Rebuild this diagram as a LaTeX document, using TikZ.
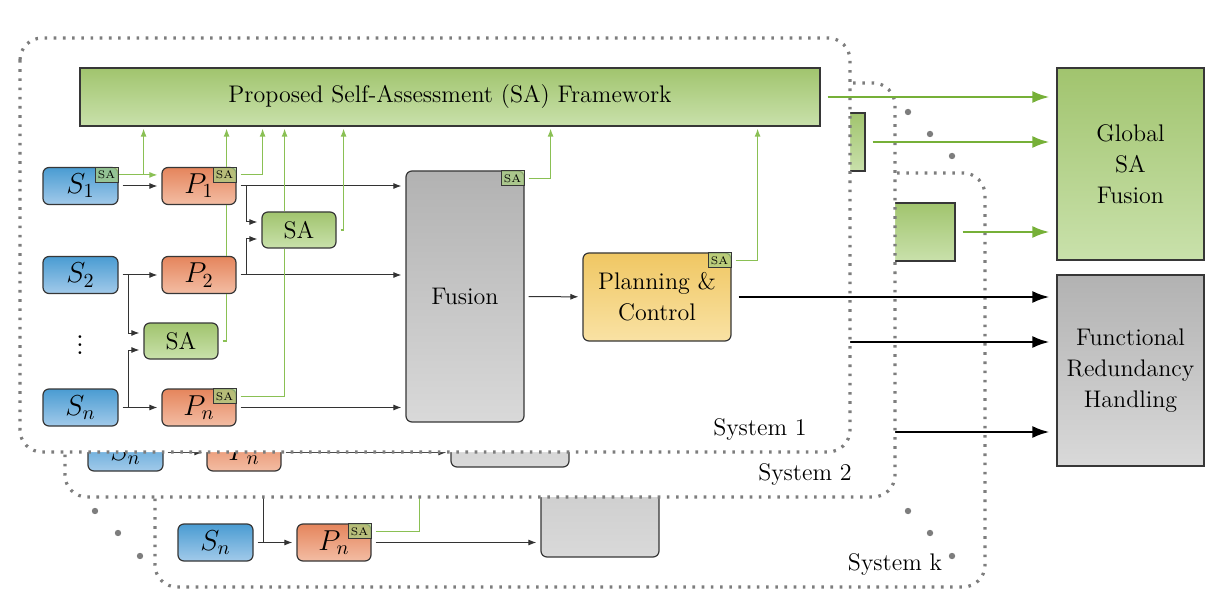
\documentclass[tikz,border=0pt]{standalone}
\usetikzlibrary{arrows.meta,calc}
\definecolor{bluetop}{RGB}{74,156,210}
\definecolor{bluebot}{RGB}{162,202,234}
\definecolor{ortop}{RGB}{229,133,92}
\definecolor{orbot}{RGB}{243,189,164}
\definecolor{grtop}{RGB}{161,196,110}
\definecolor{grbot}{RGB}{201,225,171}
\definecolor{gytop}{RGB}{178,178,178}
\definecolor{gybot}{RGB}{217,217,217}
\definecolor{yetop}{RGB}{240,199,99}
\definecolor{yebot}{RGB}{249,226,164}
\definecolor{badgefill}{RGB}{168,206,128}
\definecolor{lgreen}{RGB}{138,192,84}
\definecolor{dgreen}{RGB}{118,176,56}
\definecolor{border}{RGB}{55,55,55}
\definecolor{dotgray}{RGB}{125,125,125}
\tikzset{
  base/.style={draw=border, line width=0.6pt, inner sep=0pt, font=\fontsize{12}{15.5}\selectfont},
  sbox/.style={base, rounded corners=3pt, top color=bluetop, bottom color=bluebot, minimum width=37.5pt, minimum height=18.5pt, font=\Large},
  pbox/.style={base, rounded corners=3pt, top color=ortop, bottom color=orbot, minimum width=37pt, minimum height=18.5pt, font=\Large},
  sabox/.style={base, rounded corners=3pt, top color=grtop, bottom color=grbot, minimum width=37pt, minimum height=18pt},
  fubox/.style={base, rounded corners=3pt, top color=gytop, bottom color=gybot, minimum width=59pt, minimum height=125.5pt},
  pcbox/.style={base, rounded corners=3pt, top color=yetop, bottom color=yebot, minimum width=74pt, minimum height=44pt, align=center},
  fwbox/.style={base, top color=grtop, bottom color=grbot, minimum width=370pt, minimum height=29pt},
  bigg/.style={base, top color=grtop, bottom color=grbot, minimum width=73.5pt, minimum height=96pt, align=center},
  bigk/.style={base, top color=gytop, bottom color=gybot, minimum width=73.5pt, minimum height=95.5pt, align=center},
  badge/.style={draw=border, line width=0.5pt, fill=badgefill, fill opacity=0.75, text opacity=1, inner sep=0pt, minimum width=11.5pt, minimum height=7.5pt, font=\fontsize{5.5}{6}\selectfont, anchor=north east},
  sysbox/.style={draw=dotgray, fill=white, line width=1.6pt, dash pattern=on 1.3pt off 3.3pt, rounded corners=11pt},
  lbl/.style={font=\fontsize{12}{15}\selectfont, inner sep=0pt},
  arr/.style={-{Latex[length=4pt,width=3pt]}, line width=0.5pt, black!80, shorten >=2pt, shorten <=2pt},
  gline/.style={line width=0.6pt, lgreen, shorten <=2pt},
  garr/.style={-{Latex[length=4pt,width=3pt]}, line width=0.6pt, lgreen, shorten >=1pt},
  gbig/.style={-{Latex[length=8.5pt,width=6pt]}, line width=1.2pt, dgreen, shorten <=3.5pt, shorten >=3.5pt},
  kbig/.style={-{Latex[length=8.5pt,width=6pt]}, line width=1.2pt, black, shorten <=3.5pt, shorten >=3.5pt},
  layerdot/.style={fill=dotgray}
}
\newif\ifshowall
\newcommand\T[1]{\ifshowall#1\fi}
\newcommand\drawsystem[3]{%
\begin{scope}[shift={#2}]
\draw[sysbox] (20,38) rectangle (850,452);
\node[lbl] (#1lbl) at (760,429) {#3};
\node[fwbox] (#1FW) at (450,97) {\T{Proposed Self-Assessment (SA) Framework}};
\node[sbox] (#1S1) at (80.5,186) {\T{$S_1$}};
\node[sbox] (#1S2) at (80.5,275) {\T{$S_2$}};
\node[sbox] (#1Sn) at (80.5,407.5) {$S_n$};
\node[font=\Large, inner sep=0pt] (#1vd) at (80,339) {\T{$\vdots$}};
\node[pbox] (#1P1) at (199,186) {\T{$P_1$}};
\node[pbox] (#1P2) at (199,275) {\T{$P_2$}};
\node[pbox] (#1Pn) at (199,407.5) {$P_n$};
\node[sabox] (#1SAu) at (299,230) {\T{SA}};
\node[sabox] (#1SAl) at (181,341) {\T{SA}};
\node[fubox] (#1FU) at (465,296.5) {\T{Fusion}};
\node[pcbox] (#1PC) at (657,297) {\T{Planning \&\\Control}};
\node[badge] (#1S1b) at (#1S1.north east) {\T{SA}};
\node[badge] (#1P1b) at (#1P1.north east) {\T{SA}};
\node[badge] (#1Pnb) at (#1Pn.north east) {SA};
\node[badge] (#1FUb) at (#1FU.north east) {\T{SA}};
\node[badge] (#1PCb) at (#1PC.north east) {\T{SA}};
% black data flow
\draw[arr] (#1S1) -- (#1P1);
\draw[arr] (#1S2) -- (#1P2);
\draw[arr] (#1Sn) -- (#1Pn);
\draw[arr, shorten <=0pt] ($(#1S2.east)+(10,0)$) |- ($(#1SAl.west)+(0,-8)$);
\draw[arr, shorten <=0pt] ($(#1Sn.east)+(10,0)$) |- ($(#1SAl.west)+(0,9)$);
\draw[arr] (#1P1.east) -- (#1P1.east -| #1FU.west);
\draw[arr] (#1P2.east) -- (#1P2.east -| #1FU.west);
\draw[arr] (#1Pn.east) -- (#1Pn.east -| #1FU.west);
\draw[arr, shorten <=0pt] ($(#1P1.east)+(10,0)$) |- ($(#1SAu.west)+(0,-8)$);
\draw[arr, shorten <=0pt] ($(#1P2.east)+(10,0)$) |- ($(#1SAu.west)+(0,9)$);
\draw[arr] (#1FU) -- (#1PC);
% green self-assessment flow
\coordinate (#1j1) at ($(#1S1b.east)+(25,0)$);
\draw[garr, shorten >=2pt] (#1S1b.east) -- (#1S1b.east -| #1P1.west);
\draw[garr] (#1j1) -- (#1j1 |- #1FW.south);
\coordinate (#1j2) at ($(#1P1b.east)+(26,0)$);
\draw[gline] (#1P1b.east) -- (#1j2);
\draw[garr] (#1j2) -- (#1j2 |- #1FW.south);
\coordinate (#1j3) at ($(#1SAl.east)+(8,0)$);
\draw[gline] (#1SAl.east) -- (#1j3) -- (#1j3 |- #1P2.south);
\draw[gline, shorten <=0pt] (#1j3 |- #1P2.north) -- (#1j3 |- #1P1.south);
\draw[garr] (#1j3 |- #1P1.north) -- (#1j3 |- #1FW.south);
\coordinate (#1j4) at ($(#1Pnb.east)+(48,0)$);
\draw[gline] (#1Pnb.east) -- (#1j4) -- (#1j4 |- #1SAu.south);
\draw[garr] (#1j4 |- #1SAu.north) -- (#1j4 |- #1FW.south);
\coordinate (#1j5) at ($(#1SAu.east)+(7,0)$);
\draw[gline] (#1SAu.east) -- (#1j5);
\draw[garr] (#1j5) -- (#1j5 |- #1FW.south);
\coordinate (#1j6) at ($(#1FUb.east)+(26,0)$);
\draw[gline] (#1FUb.east) -- (#1j6);
\draw[garr] (#1j6) -- (#1j6 |- #1FW.south);
\coordinate (#1j7) at ($(#1PCb.east)+(26,0)$);
\draw[gline] (#1PCb.east) -- (#1j7);
\draw[garr] (#1j7) -- (#1j7 |- #1FW.south);
\end{scope}
\draw[gbig] (#1FW) -- (#1FW -| GL.west);
\draw[kbig] (#1PC) -- (#1PC -| FR.west);
}
\begin{document}
\begin{tikzpicture}[x=0.5pt,y=-0.5pt]
\useasboundingbox (0,0) rectangle (1231,609);
\node[bigg] (GL) at (1130.5,164) {Global\\SA\\Fusion};
\node[bigk] (FR) at (1130.5,370.5) {Functional\\Redundancy\\Handling};
\showallfalse
\drawsystem{K}{(135,135)}{System k}
\drawsystem{B}{(45,45)}{System 2}
\showalltrue
\drawsystem{A}{(0,0)}{System 1}
\foreach \px/\py in {908/112,930/134,952/156,95/511,118/533,140/556,908/511,930/533,952/556}
  \fill[layerdot] (\px,\py) circle (1.6pt);
\end{tikzpicture}
\end{document}
